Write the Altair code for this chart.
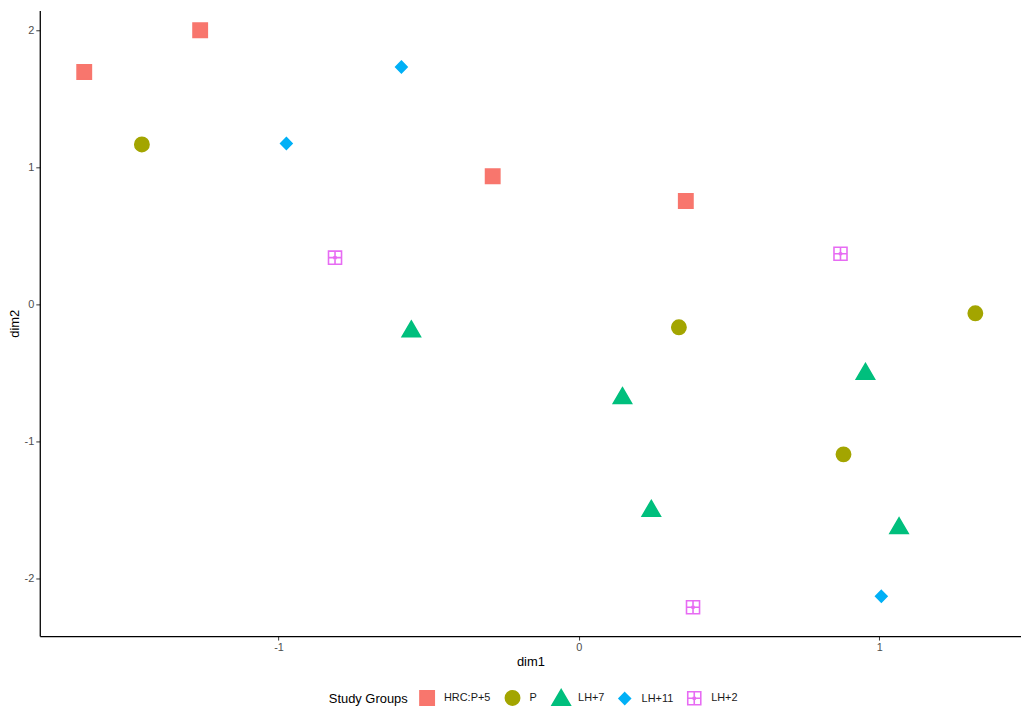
import altair as alt
import pandas as pd

groups = ["HRC:P+5", "P", "LH+7", "LH+11", "LH+2"]
colors = ["#F8766D", "#A3A500", "#00BF7D", "#00B0F6", "#E76BF3"]
fills = ["#F8766D", "#A3A500", "#00BF7D", "#00B0F6", "transparent"]

# symbol outlines in unit coordinates (scaled by the mark size)
shapes = [
    "M-0.9,-0.9H0.9V0.9H-0.9Z",
    "M0.9,0A0.9,0.9,0,1,1,-0.9,0A0.9,0.9,0,1,1,0.9,0Z",
    "M0,-1.02L1.15,0.95L-1.15,0.95Z",
    "M0,-0.74L0.72,0L0,0.74L-0.72,0Z",
    "M-0.82,-0.82H0.82V0.82H-0.82Z M0,-0.82V0.82 M-0.82,0H0.82 M0.16,0A0.16,0.16,0,1,1,-0.16,0A0.16,0.16,0,1,1,0.16,0",
]

hrc_x = [-1.647, -1.261, -0.287, 0.356]
hrc_y = [1.696, 2.0, 0.935, 0.754]
p_x = [-1.455, 0.333, 1.320, 0.881]
p_y = [1.167, -0.167, -0.065, -1.094]
lh7_x = [-0.558, 0.145, 0.241, 0.954, 1.066]
lh7_y = [-0.18, -0.667, -1.49, -0.49, -1.616]
lh11_x = [-0.591, -0.974, 1.007]
lh11_y = [1.732, 1.174, -2.13]
lh2_x = [-0.812, 0.871, 0.380]
lh2_y = [0.341, 0.370, -2.21]

rows = []
for g, xs, ys in zip(groups, [hrc_x, p_x, lh7_x, lh11_x, lh2_x],
                     [hrc_y, p_y, lh7_y, lh11_y, lh2_y]):
    for a, b in zip(xs, ys):
        rows.append({"dim1": a, "dim2": b, "group": g})
df = pd.DataFrame(rows)

FONT = "Liberation Sans"
neg = "datum.value < 0 ? '-' + abs(datum.value) : '' + datum.value"

chart = alt.Chart(df).mark_point(size=256, opacity=1, strokeWidth=1.6).encode(
    x=alt.X("dim1:Q", scale=alt.Scale(domain=[-1.795, 1.472], nice=False, zero=False),
            axis=alt.Axis(values=[-1, 0, 1], labelExpr=neg, title="dim1")),
    y=alt.Y("dim2:Q", scale=alt.Scale(domain=[-2.42, 2.145], nice=False, zero=False),
            axis=alt.Axis(values=[-2, -1, 0, 1, 2], labelExpr=neg, title="dim2")),
    shape=alt.Shape("group:N", title="Study Groups",
                    scale=alt.Scale(domain=groups, range=shapes)),
    fill=alt.Fill("group:N", title="Study Groups",
                  scale=alt.Scale(domain=groups, range=fills)),
    stroke=alt.Stroke("group:N", title="Study Groups",
                      scale=alt.Scale(domain=groups, range=colors)),
).properties(
    width=988, height=630,
    padding={"top": 0, "left": 0, "right": 0, "bottom": 0},
).configure_view(stroke=None).configure_axis(
    grid=False, domainColor="#000000", domainWidth=1.3, tickColor="#333333",
    tickSize=4, labelColor="#4D4D4D", labelFontSize=11, labelFont=FONT,
    labelPadding=2, titleFont=FONT, titleFontSize=13, titleFontWeight="normal",
    titleColor="#000000", titlePadding=3,
).configure_legend(
    orient="none", direction="horizontal", legendX=291, legendY=683,
    titleOrient="left", symbolSize=256, symbolStrokeWidth=1.6,
    labelFont=FONT, labelFontSize=11, labelColor="#1A1A1A", labelOffset=8,
    titleFont=FONT, titleFontSize=13, titleFontWeight="normal", titleColor="#000000",
    titlePadding=10, columnPadding=11, titleAnchor="middle", titleBaseline="middle",
)

chart.save("out.html", embed_options={"renderer": "svg", "actions": False})
